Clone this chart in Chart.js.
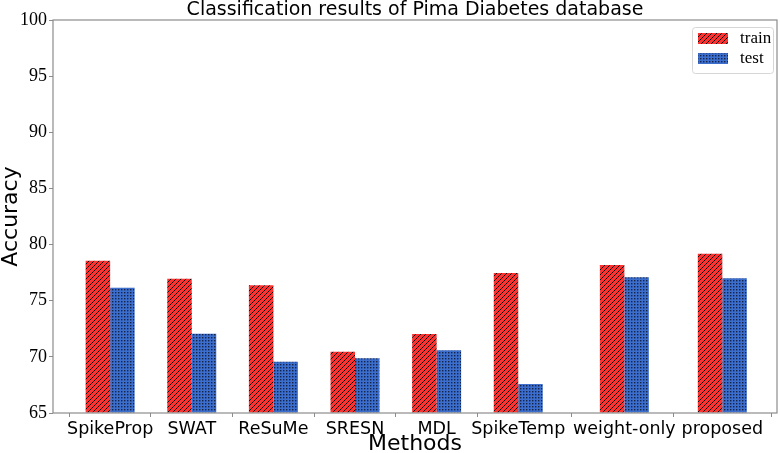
<!DOCTYPE html>
<html>
<head>
<meta charset="utf-8">
<script src="https://cdn.jsdelivr.net/npm/chart.js@4.4.0/dist/chart.umd.min.js"></script>
<style>
html,body{margin:0;padding:0;background:#fff;}
#wrap{width:780px;height:453px;position:relative;}
</style>
</head>
<body>
<div id="wrap"><canvas id="c" width="780" height="453"></canvas></div>
<script>
const categories = ['SpikeProp','SWAT','ReSuMe','SRESN','MDL','SpikeTemp','weight-only','proposed'];
const positions = [0, 1, 2, 3, 4, 5, 6.3, 7.5];
const trainAcc = [78.56, 76.96, 76.37, 70.46, 72.03, 77.47, 78.18, 79.19];
const testAcc = [76.16, 72.06, 69.57, 69.87, 70.58, 67.58, 77.08, 77.00];
const yTicks = [65, 70, 75, 80, 85, 90, 95, 100];
const seriesLabels = ['train', 'test'];

function hatchPattern() {
  const s = 5;
  const c = document.createElement('canvas');
  c.width = s; c.height = s;
  const g = c.getContext('2d');
  g.fillStyle = '#ff3232';
  g.fillRect(0, 0, s, s);
  g.strokeStyle = '#111';
  g.lineWidth = 1;
  g.beginPath();
  g.moveTo(0, s); g.lineTo(s, 0);
  g.moveTo(-1, 1); g.lineTo(1, -1);
  g.moveTo(s - 1, s + 1); g.lineTo(s + 1, s - 1);
  g.stroke();
  return g.createPattern(c, 'repeat');
}
function dotPattern() {
  const s = 3;
  const c = document.createElement('canvas');
  c.width = s; c.height = s;
  const g = c.getContext('2d');
  g.fillStyle = '#3c6ecd';
  g.fillRect(0, 0, s, s);
  g.fillStyle = '#152347';
  g.fillRect(1, 1, 1.4, 1.4);
  return g.createPattern(c, 'repeat');
}
const trainFill = hatchPattern();
const testFill = dotPattern();

const frameAndLegend = {
  id: 'frameAndLegend',
  afterDraw(chart) {
    const ctx = chart.ctx;
    const a = chart.chartArea;
    ctx.save();
    ctx.strokeStyle = '#8c8c8c';
    ctx.lineWidth = 1.2;
    ctx.strokeRect(a.left, a.top, a.right - a.left, a.bottom - a.top);
    // legend
    const lx = 692, ly = 27, lw = 81, lh = 46;
    ctx.fillStyle = 'rgba(255,255,255,0.8)';
    ctx.strokeStyle = '#d6d6d6';
    ctx.lineWidth = 1;
    ctx.beginPath();
    ctx.roundRect(lx + 0.5, ly + 0.5, lw, lh, 3);
    ctx.fill();
    ctx.stroke();
    const fills = [trainFill, testFill];
    ctx.font = '17px "Liberation Serif", "Times New Roman", serif';
    ctx.textBaseline = 'middle';
    for (let i = 0; i < seriesLabels.length; i++) {
      const py = 33 + i * 20;
      ctx.fillStyle = fills[i];
      ctx.fillRect(698, py, 30, 11);
      ctx.fillStyle = '#000';
      ctx.fillText(seriesLabels[i], 740, py + 6);
    }
    ctx.restore();
  }
};

new Chart(document.getElementById('c'), {
  type: 'bar',
  data: {
    datasets: [
      {
        label: seriesLabels[0],
        data: positions.map((p, i) => ({x: p, y: trainAcc[i]})),
        backgroundColor: trainFill,
        borderWidth: 0,
        base: 65
      },
      {
        label: seriesLabels[1],
        data: positions.map((p, i) => ({x: p, y: testAcc[i]})),
        backgroundColor: testFill,
        borderWidth: 0,
        base: 65
      }
    ]
  },
  options: {
    responsive: false,
    animation: false,
    devicePixelRatio: 1,
    layout: {padding: {left: 0, right: 3, top: 0, bottom: 0}},
    datasets: {bar: {categoryPercentage: 0.6, barPercentage: 1.0, grouped: true}},
    plugins: {
      legend: {display: false},
      tooltip: {enabled: false},
      title: {
        display: true,
        fullSize: false,
        text: 'Classification results of Pima Diabetes database',
        color: '#000',
        font: {family: '"DejaVu Sans", sans-serif', size: 19, weight: 'normal', lineHeight: 1},
        padding: {top: 1, bottom: 0}
      }
    },
    scales: {
      x: {
        type: 'linear',
        min: -0.7,
        max: 8.17,
        offset: false,
        afterBuildTicks(scale) { scale.ticks = positions.map(v => ({value: v})); },
        afterFit(scale) { scale.height = 40; },
        ticks: {
          autoSkip: false,
          maxRotation: 0,
          padding: 2,
          color: '#000',
          font: {family: '"DejaVu Sans", sans-serif', size: 17.5},
          callback: (v, i) => categories[i]
        },
        grid: {display: true, drawOnChartArea: false, drawTicks: true, tickLength: 4, color: '#8c8c8c'},
        border: {display: false},
        title: {
          display: true,
          text: 'Methods',
          color: '#000',
          font: {family: '"DejaVu Sans", sans-serif', size: 22, lineHeight: 0.75},
          padding: {top: 0, bottom: 0}
        }
      },
      y: {
        type: 'linear',
        min: 65,
        max: 100,
        afterBuildTicks(scale) { scale.ticks = yTicks.map(v => ({value: v})); },
        afterFit(scale) { scale.width = 53; },
        ticks: {
          padding: 2,
          color: '#000',
          font: {family: '"Liberation Serif", "Times New Roman", serif', size: 18}
        },
        grid: {display: true, drawOnChartArea: false, drawTicks: true, tickLength: 4, color: '#8c8c8c'},
        border: {display: false},
        title: {
          display: true,
          text: 'Accuracy',
          color: '#000',
          font: {family: '"DejaVu Sans", sans-serif', size: 22, lineHeight: 1},
          padding: {top: 0, bottom: 0}
        }
      }
    }
  },
  plugins: [frameAndLegend]
});
</script>
</body>
</html>
